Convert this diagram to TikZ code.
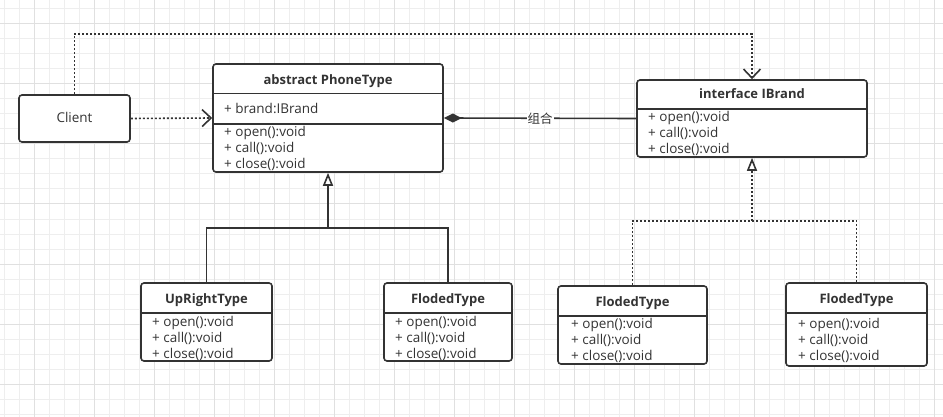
\documentclass[tikz,border=0pt]{standalone}
\usepackage{fontspec}
\setmainfont{Open Sans}
\newfontfamily\cjk{Noto Sans CJK SC}
\usetikzlibrary{arrows.meta}
\definecolor{ink}{HTML}{333333}
\definecolor{gridminor}{HTML}{EEEEEE}
\definecolor{gridmajor}{HTML}{E0E0E0}

\begin{document}
\begin{tikzpicture}[x=1pt,y=-1pt]
	\useasboundingbox (0,0) rectangle (943,417);
	
	\tikzstyle{classbox}=[draw=ink,line width=1.6pt,rounded corners=3pt,fill=white,inner sep=0pt]
	
	\tikzstyle{title}=[font=\fontsize{13}{15}\selectfont\bfseries,text=ink,inner sep=0pt,anchor=base]
	
	\tikzstyle{member}=[font=\fontsize{13.5}{15}\selectfont,text=ink,inner sep=0pt,anchor=base west]
	
	\tikzstyle{link}=[draw=ink,line width=1.6pt]
	\tikzstyle{dep}=[link,dash pattern=on 2pt off 2pt]
	
	% grid paper
	\fill[white] (0,0) rectangle (943,417);
	\foreach \x in {4,19,...,940} \draw[gridminor,line width=1pt] (\x,0) -- (\x,417);
	\foreach \y in {9,24,...,415} \draw[gridminor,line width=1pt] (0,\y) -- (943,\y);
	\foreach \x in {34,94,...,940} \draw[gridmajor,line width=1pt] (\x,0) -- (\x,417);
	\foreach \y in {24,84,...,415} \draw[gridmajor,line width=1pt] (0,\y) -- (943,\y);
	
	% classes
	\node[classbox,minimum width=111pt,minimum height=47pt](client) at (74.5,118.5){};
	\node[classbox,minimum width=230pt,minimum height=108pt](phone) at (328,118){};
	\node[classbox,minimum width=230pt,minimum height=77pt](brand) at (752,118.5){};
	\node[classbox,minimum width=131pt,minimum height=78pt](upright) at (206.5,322){};
	\node[classbox,minimum width=128pt,minimum height=78pt](flodedA) at (448,322){};
	\node[classbox,minimum width=149pt,minimum height=78pt](flodedB) at (632.5,325){};
	\node[classbox,minimum width=141pt,minimum height=83pt](flodedC) at (856.5,324.5){};
	
	\node[member,anchor=base](clientText) at (74.5,123){Client};
	
	\node[title](phoneTitle) at (328,84.5){abstract PhoneType};
	\draw[link] (phone.west |- 0,93.5) -- (phone.east |- 0,93.5);
	\node[member](phoneBrand) at (224,114){+ brand:IBrand};
	\draw[link] (phone.west |- 0,124) -- (phone.east |- 0,124);
	\foreach \m [count=\i from 0] in {open,call,close}
		\node[member](phone-\m) at (224,{136.5+16.2*\i}){+ \m():void};
	
	\node[title](brandTitle) at (752,98.5){interface IBrand};
	\draw[link] (brand.west |- 0,109) -- (brand.east |- 0,109);
	\foreach \m [count=\i from 0] in {open,call,close}
		\node[member](brand-\m) at (648,{122+16*\i}){+ \m():void};
	
	\node[title](uprightTitle) at (206.5,303){UpRightType};
	\draw[link] (upright.west |- 0,313) -- (upright.east |- 0,313);
	\foreach \m [count=\i from 0] in {open,call,close}
		\node[member](upright-\m) at (152,{326+16*\i}){+ \m():void};
	
	\node[title](flodedATitle) at (448,303){FlodedType};
	\draw[link] (flodedA.west |- 0,313) -- (flodedA.east |- 0,313);
	\foreach \m [count=\i from 0] in {open,call,close}
		\node[member](flodedA-\m) at (395,{326+16*\i}){+ \m():void};
	
	\node[title](flodedBTitle) at (632.5,306.5){FlodedType};
	\draw[link] (flodedB.west |- 0,316) -- (flodedB.east |- 0,316);
	\foreach \m [count=\i from 0] in {open,call,close}
		\node[member](flodedB-\m) at (571,{328.5+16*\i}){+ \m():void};
	
	\node[title](flodedCTitle) at (856.5,303){FlodedType};
	\draw[link] (flodedC.west |- 0,313) -- (flodedC.east |- 0,313);
	\foreach \m [count=\i from 0] in {open,call,close}
		\node[member](flodedC-\m) at (798,{328.5+16*\i}){+ \m():void};
	
	% relations
	\coordinate(clientBend) at (752,34);
	\coordinate(genJoin) at (328,228);
	\coordinate(realJoin) at (752,221);
	
	\draw[dep,-{Straight Barb[length=9pt,width=17pt]}] (client.north) |- (clientBend) -- (brand.north);
	\draw[dep,-{Straight Barb[length=9pt,width=17pt]}] (client.east) -- (phone.west);
	
	\draw[link,{Diamond[length=18pt,width=9pt]}-] (phone.east) -- node[fill=white,inner sep=1pt,text=ink,font=\cjk\fontsize{12.5}{14}\selectfont]{组合} (brand.west);
	
	\draw[link,-{Triangle[open,fill=white,length=13pt,width=10pt]}] (upright.north) |- (genJoin) -- (phone.south);
	\draw[link] (flodedA.north) |- (genJoin);
	
	\draw[dep,-{Triangle[open,fill=white,length=13pt,width=10pt]}] (flodedB.north) |- (realJoin) -- (brand.south);
	\draw[dep] (flodedC.north) |- (realJoin);
	
\end{tikzpicture}
\end{document}
